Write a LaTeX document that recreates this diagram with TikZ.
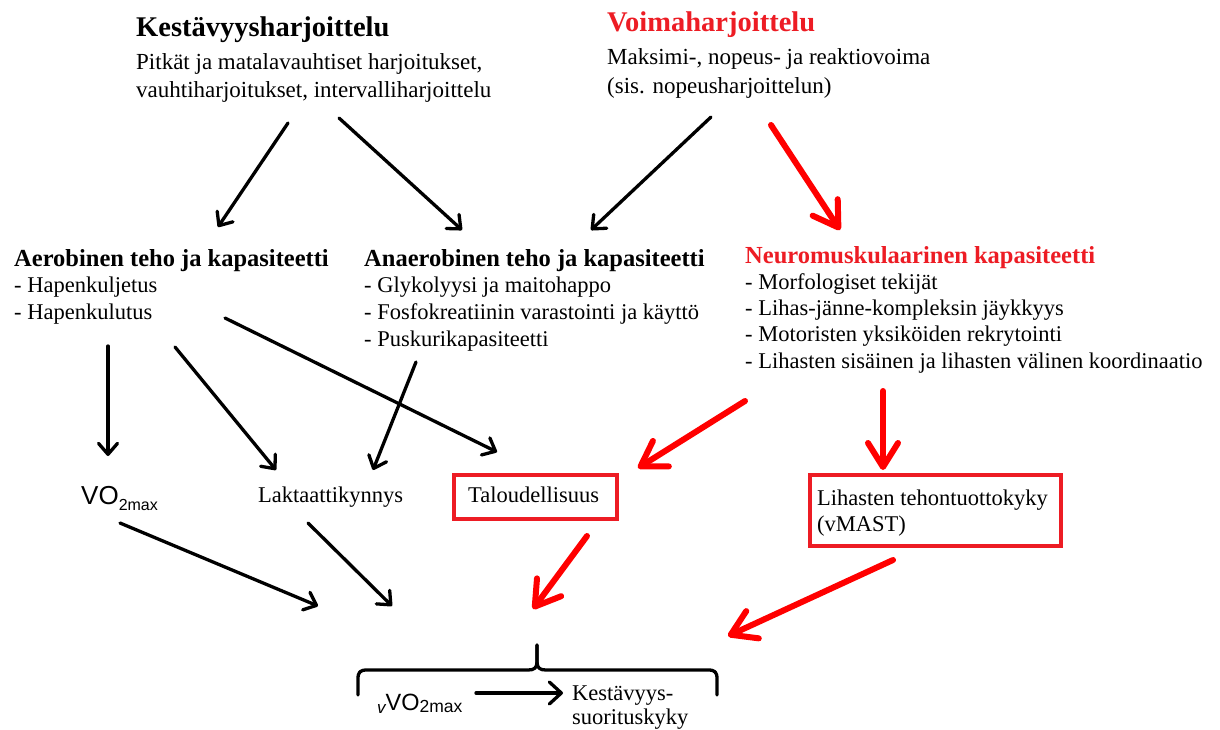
\documentclass[tikz,border=0pt]{standalone}
\usepackage{fontspec}
\setmainfont{Liberation Serif}
\newfontfamily\arialf{Liberation Sans}
\usetikzlibrary{arrows.meta}
\definecolor{boxred}{RGB}{237,28,36}
\definecolor{arrred}{RGB}{255,0,0}
\begin{document}
\begin{tikzpicture}[x=1pt,y=-1pt,
  txt/.style={inner sep=0pt,anchor=base west,font=\fontsize{23}{28}\selectfont},
  lst/.style={inner sep=0pt,anchor=base west,font=\fontsize{22.5}{27}\selectfont},
  ttl/.style={inner sep=0pt,anchor=base west,font=\fontsize{28.5}{33}\selectfont\bfseries},
  hd/.style={inner sep=0pt,anchor=base west,font=\fontsize{24.5}{29}\selectfont\bfseries},
  redtxt/.style={text=boxred},
  redbox/.style={draw=boxred,line width=4pt},
  blk/.style={draw=black,line width=3.3pt,line cap=round,line join=round,-{Straight Barb[length=11pt,width=19pt,line cap=round,line join=round]}},
  rd/.style={draw=arrred,line width=6pt,line cap=round,line join=round,-{Straight Barb[length=24pt,width=30pt,line cap=round,line join=round]}},
  brace/.style={draw=black,line width=3.3pt,line cap=round,line join=round}
]
\fill[white] (0,0) rectangle (1220,729);
\useasboundingbox (0,0) rectangle (1220,729);

% top blocks
\node[ttl] (kes) at (136,36) {Kestävyysharjoittelu};
\node[txt] (kes1) at (136,69) {Pitkät ja matalavauhtiset harjoitukset,};
\node[txt] (kes2) at (136,97) {vauhtiharjoitukset, intervalliharjoittelu};

\node[ttl,redtxt] (voi) at (607,31) {Voimaharjoittelu};
\node[txt] (voi1) at (607,64) {Maksimi-, nopeus- ja reaktiovoima};
\node[txt] (voi2) at (607,93) {(sis. nopeusharjoittelun)};

% middle blocks
\node[hd] (aer) at (14,266) {Aerobinen teho ja kapasiteetti};
\node[lst] (aer1) at (14,292) {- Hapenkuljetus};
\node[lst] (aer2) at (14,319) {- Hapenkulutus};

\node[hd] (ana) at (364,266) {Anaerobinen teho ja kapasiteetti};
\node[lst] (ana1) at (364,292) {- Glykolyysi ja maitohappo};
\node[lst] (ana2) at (364,319) {- Fosfokreatiinin varastointi ja käyttö};
\node[lst] (ana3) at (364,346) {- Puskurikapasiteetti};

\node[hd,redtxt] (neu) at (745,263) {Neuromuskulaarinen kapasiteetti};
\node[lst] (neu1) at (745,289) {- Morfologiset tekijät};
\node[lst] (neu2) at (745,315) {- Lihas-jänne-kompleksin jäykkyys};
\node[lst] (neu3) at (745,341) {- Motoristen yksiköiden rekrytointi};
\node[lst] (neu4) at (745,368) {- Lihasten sisäinen ja lihasten välinen koordinaatio};

% lower row
\node[inner sep=0pt,anchor=base west,font=\arialf\fontsize{26}{30}\selectfont] (vo) at (81,504)
  {VO\raisebox{-6pt}{\fontsize{16}{18}\selectfont 2max}};
\node[lst] (lak) at (258,502) {Laktaattikynnys};
\node[redbox,minimum width=163pt,minimum height=44pt,inner sep=0pt,anchor=north west] (tal) at (452,473) {};
\node[lst] (taltxt) at (468,502) {Taloudellisuus};
\node[redbox,minimum width=251pt,minimum height=71pt,inner sep=0pt,anchor=north west] (lih) at (808,473) {};
\node[lst] (lih1) at (817,505) {Lihasten tehontuottokyky};
\node[lst] (lih2) at (817,531) {(vMAST)};

% bottom
\node[inner sep=0pt,anchor=base west,font=\arialf\fontsize{23.5}{28}\selectfont] (vvo) at (377,710)
  {\raisebox{-3pt}{\fontsize{17}{20}\selectfont\itshape v}VO\raisebox{-2.5pt}{\fontsize{17.5}{20}\selectfont 2max}};
\node[lst] (kss1) at (572,700) {Kestävyys-};
\node[lst] (kss2) at (572,724) {suorituskyky};

% arrow coordinates
\coordinate (a1s) at (288,123); \coordinate (a1e) at (218,227);
\coordinate (a2s) at (339,118); \coordinate (a2e) at (462,230);
\coordinate (a3s) at (711,117); \coordinate (a3e) at (591,230);
\coordinate (a4s) at (771,125); \coordinate (a4e) at (840,230);
\coordinate (a5s) at (108,346); \coordinate (a5e) at (108,456);
\coordinate (a6s) at (175,347); \coordinate (a6e) at (276,470);
\coordinate (a7s) at (225,318); \coordinate (a7e) at (497,452);
\coordinate (a8s) at (416,362); \coordinate (a8e) at (373,470);
\coordinate (a9s) at (745,401); \coordinate (a9e) at (638,468);
\coordinate (a10s) at (883,391); \coordinate (a10e) at (883,470);
\coordinate (a11s) at (120,523); \coordinate (a11e) at (318,606);
\coordinate (a12s) at (308,523); \coordinate (a12e) at (392,606);
\coordinate (a13s) at (587,536); \coordinate (a13e) at (533,609);
\coordinate (a14s) at (893,560); \coordinate (a14e) at (728,636);
\coordinate (a15s) at (476,693); \coordinate (a15e) at (563,693);

\draw[blk] (a1s) -- (a1e);
\draw[blk] (a2s) -- (a2e);
\draw[blk] (a3s) -- (a3e);
\draw[rd]  (a4s) -- (a4e);
\draw[blk] (a5s) -- (a5e);
\draw[blk] (a6s) -- (a6e);
\draw[blk] (a7s) -- (a7e);
\draw[blk] (a8s) -- (a8e);
\draw[rd]  (a9s) -- (a9e);
\draw[rd]  (a10s) -- (a10e);
\draw[blk] (a11s) -- (a11e);
\draw[blk] (a12s) -- (a12e);
\draw[rd]  (a13s) -- (a13e);
\draw[rd]  (a14s) -- (a14e);
\draw[draw=black,line width=3.3pt,line cap=round,-{Straight Barb[length=12pt,width=22pt,line cap=round,line join=round]}] (a15s) -- (a15e);

% brace
\coordinate (brL) at (358,695); \coordinate (brR) at (717,695); \coordinate (brT) at (537,645);
\draw[brace] (brL) -- (358,679) .. controls (358,672) and (360,670) .. (367,670)
  -- (528,670) .. controls (534,670) and (537,668) .. (537,662) -- (brT);
\draw[brace] (brT) -- (537,662) .. controls (537,668) and (540,670) .. (546,670)
  -- (708,670) .. controls (715,670) and (717,672) .. (717,679) -- (brR);
\end{tikzpicture}
\end{document}
